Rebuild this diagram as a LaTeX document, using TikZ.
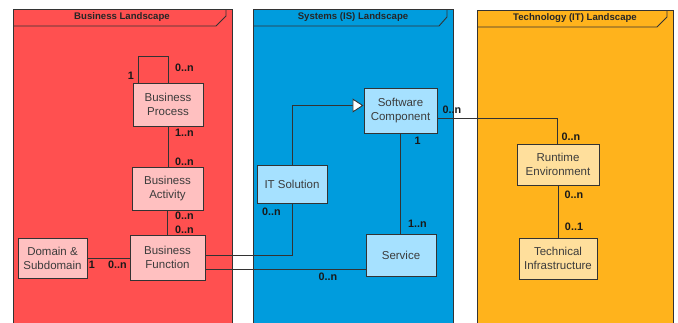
\documentclass[tikz,border=0pt]{standalone}
\usepackage{fontspec}
\setmainfont{Liberation Sans}
\usetikzlibrary{arrows.meta}
\definecolor{bizframe}{HTML}{FF5050}
\definecolor{sysframe}{HTML}{009CDD}
\definecolor{techframe}{HTML}{FFB31C}
\definecolor{biznode}{HTML}{FFC0C0}
\definecolor{sysnode}{HTML}{A6E1FF}
\definecolor{technode}{HTML}{FFDF9C}
\definecolor{edgecol}{HTML}{333333}
\definecolor{nodetext}{HTML}{3C3C3C}
\tikzset{
  frame/.style={draw=edgecol, line width=0.9pt},
  framehead/.style={font=\fontsize{9.6}{11}\selectfont\bfseries, text=black!85},
  entity/.style={draw=edgecol, line width=1pt, align=center, inner sep=0pt,
    text=nodetext, font=\fontsize{11.5}{14}\selectfont},
  conn/.style={draw=edgecol, line width=0.9pt},
  mult/.style={font=\fontsize{10.8}{12}\selectfont\bfseries, text=black!90, inner sep=0pt}
}
\begin{document}
\begin{tikzpicture}[x=1pt,y=-1pt]
\useasboundingbox (0,0) rectangle (678,322);
\clip (0,0) rectangle (678,322);
\fill[white] (0,0) rectangle (678,322);
% frames
\draw[frame, fill=bizframe] (13,9) rectangle (232,340);
\draw[frame] (13,26) -- (216,26) -- (226,16) -- (226,9);
\node[framehead] (t1) at (122,17.5) {Business Landscape};
\draw[frame, fill=sysframe] (253,9) rectangle (453,340);
\draw[frame] (253,26) -- (439,26) -- (447,17) -- (447,9);
\node[framehead] (t2) at (353,17.5) {Systems (IS) Landscape};
\draw[frame, fill=techframe] (477,10) rectangle (673,340);
\draw[frame] (477,27) -- (657,27) -- (667,17) -- (667,10);
\node[framehead] (t3) at (575,18) {Technology (IT) Landscape};
% nodes
\node[entity, fill=biznode, minimum width=70pt, minimum height=43pt] (bp) at (168,104.5) {Business\\Process};
\node[entity, fill=biznode, minimum width=71pt, minimum height=43pt] (ba) at (167.5,188.5) {Business\\Activity};
\node[entity, fill=biznode, minimum width=75pt, minimum height=45pt] (bf) at (167.5,257.5) {Business\\Function};
\node[entity, fill=biznode, minimum width=69pt, minimum height=40pt] (ds) at (52.5,258) {Domain \&\\Subdomain};
\node[entity, fill=sysnode, minimum width=73pt, minimum height=45pt] (sc) at (400.5,110.5) {Software\\Component};
\node[entity, fill=sysnode, minimum width=70pt, minimum height=38pt] (its) at (292,184) {IT Solution};
\node[entity, fill=sysnode, minimum width=70pt, minimum height=42pt] (svc) at (401,255) {Service};
\node[entity, fill=technode, minimum width=82pt, minimum height=41pt] (re) at (558,164.5) {Runtime\\Environment};
\node[entity, fill=technode, minimum width=78pt, minimum height=41pt] (ti) at (558,258.5) {Technical\\Infrastructure};
% connectors
\draw[conn] (bp.north) -- ++(0,-26) -| ([xshift=6pt]bp.north west);
\draw[conn] (bp.south) -- (bp.south |- ba.north);
\draw[conn] (ba.south) -- (ba.south |- bf.north);
\draw[conn] (ds.east) -- (ds.east -| bf.west);
\draw[conn] ([yshift=2pt]bf.east) -| (its.south);
\draw[conn] ([yshift=-12pt]bf.east) -- ([yshift=-12pt]bf.east -| svc.west);
\draw[conn, -{Triangle[open, fill=white, length=11pt, width=14pt]}] (its.north) |- ([yshift=5pt]sc.west);
\draw[conn] (sc.south) -- (sc.south |- svc.north);
\draw[conn] ([yshift=-7.5pt]sc.east) -| ([xshift=-1pt]re.north);
\draw[conn] (re.south) -- (re.south |- ti.north);
% multiplicities
\node[mult] (m1) at (131,76) {1};
\node[mult] (m2) at (184.5,67.5) {0..n};
\node[mult] (m3) at (184.5,133) {1..n};
\node[mult] (m4) at (184.5,162) {0..n};
\node[mult] (m5) at (184.5,215.5) {0..n};
\node[mult] (m6) at (184.5,229.5) {0..n};
\node[mult] (m7) at (92,265) {1};
\node[mult] (m8) at (117.5,265) {0..n};
\node[mult] (m9) at (271.5,212) {0..n};
\node[mult] (m10) at (417.5,224) {1..n};
\node[mult] (m11) at (328,276.5) {0..n};
\node[mult] (m12) at (417.5,140.5) {1};
\node[mult] (m13) at (452,109.5) {0..n};
\node[mult] (m14) at (571,137) {0..n};
\node[mult] (m15) at (574,195) {0..n};
\node[mult] (m16) at (574,227) {0..1};
\end{tikzpicture}
\end{document}
